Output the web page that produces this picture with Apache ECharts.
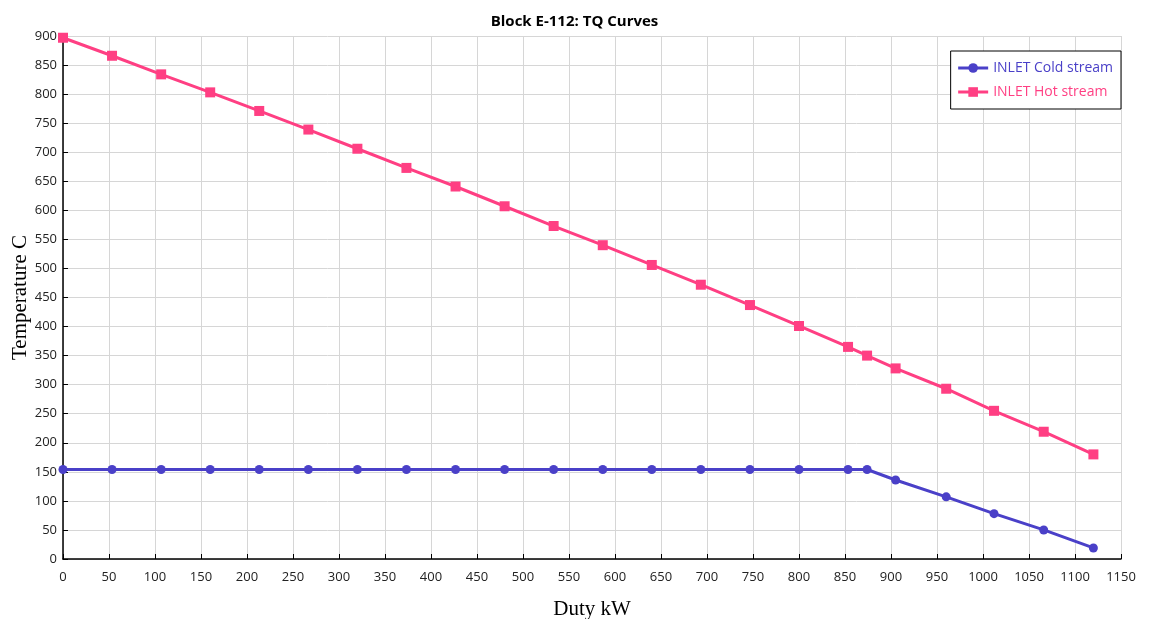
<!DOCTYPE html>
<html>
<head>
<meta charset="utf-8">
<script src="https://cdn.jsdelivr.net/npm/echarts@6/dist/echarts.min.js"></script>
<style>
    html, body { margin: 0; padding: 0; background: #fff; }
    #root { width: 1149px; height: 619px; }
</style>
</head>
<body>
<div id="root"></div>
<script>
// duty (kW) at each point
var duty = [0, 53.3, 106.7, 160, 213.3, 266.7, 320, 373.3, 426.7, 480, 533.3, 586.7,
    640, 693.3, 746.7, 800, 853.3, 874, 905, 960, 1012, 1066, 1120];
var hotTemp = [897, 866, 834, 803, 771, 739, 706, 673, 641, 607, 573, 540,
    506, 472, 437, 401, 365, 350, 328, 293, 255, 219, 180];
var coldTemp = [154, 154, 154, 154, 154, 154, 154, 154, 154, 154, 154, 154,
    154, 154, 154, 154, 154, 154, 136, 107, 78, 50, 19];
var seriesNames = ['INLET Cold stream', 'INLET Hot stream'];

var coldColor = '#4a40c8';
var hotColor = '#ff3f83';

function pairs(xs, ys) {
    return xs.map(function (x, i) { return [x, ys[i]]; });
}

var chart = echarts.init(document.getElementById('root'));
var option = {
    backgroundColor: '#fff',
    animation: false,
    title: {
        text: 'Block E-112: TQ Curves',
        left: 'center',
        top: 9,
        textStyle: { fontFamily: 'Open Sans', fontSize: 15, fontWeight: 'bold', color: '#000' }
    },
    legend: {
        orient: 'vertical',
        right: 28,
        top: 51,
        padding: [10, 8, 10, 6],
        itemGap: 10,
        itemWidth: 30,
        itemHeight: 12,
        borderColor: '#000',
        borderWidth: 1,
        backgroundColor: '#fff',
        lineStyle: { width: 3 },
        textStyle: { fontFamily: 'Open Sans', fontSize: 14 },
        data: [
            { name: seriesNames[0], textStyle: { color: coldColor } },
            { name: seriesNames[1], textStyle: { color: hotColor } }
        ]
    },
    grid: { left: 63, right: 28, top: 36, bottom: 60, containLabel: false, outerBoundsMode: 'none' },
    xAxis: {
        type: 'value',
        min: 0,
        max: 1150,
        interval: 50,
        name: 'Duty kW',
        nameLocation: 'middle',
        nameGap: 40,
        nameTextStyle: { fontFamily: 'Liberation Serif', fontSize: 21, color: '#000' },
        axisLine: { show: true, lineStyle: { color: '#000', width: 1.5 } },
        axisTick: { show: true, inside: true, length: 5, lineStyle: { color: '#000' } },
        axisLabel: { fontFamily: 'Open Sans', fontSize: 13, color: '#222', margin: 12,
            formatter: function (v) { return String(v); } },
        splitLine: { show: true, lineStyle: { color: '#d6d6d6', width: 1 } }
    },
    yAxis: {
        type: 'value',
        min: 0,
        max: 900,
        interval: 50,
        name: 'Temperature C',
        nameLocation: 'middle',
        nameGap: 43,
        nameMoveOverlap: false,
        nameTextStyle: { fontFamily: 'Liberation Serif', fontSize: 21, color: '#000', verticalAlign: 'middle' },
        axisLine: { show: true, lineStyle: { color: '#000', width: 1.5 } },
        axisTick: { show: true, inside: true, length: 5, lineStyle: { color: '#000' } },
        axisLabel: { fontFamily: 'Open Sans', fontSize: 13, color: '#222', margin: 6 },
        splitLine: { show: true, lineStyle: { color: '#d6d6d6', width: 1 } }
    },
    series: [
        {
            name: seriesNames[0],
            type: 'line',
            data: pairs(duty, coldTemp),
            symbol: 'circle',
            symbolSize: 9,
            color: coldColor,
            lineStyle: { width: 3, color: coldColor },
            itemStyle: { color: coldColor },
            z: 3
        },
        {
            name: seriesNames[1],
            type: 'line',
            data: pairs(duty, hotTemp),
            symbol: 'rect',
            symbolSize: 10,
            color: hotColor,
            lineStyle: { width: 3, color: hotColor },
            itemStyle: { color: hotColor },
            z: 3
        }
    ]
};
chart.setOption(option);
</script>
</body>
</html>
